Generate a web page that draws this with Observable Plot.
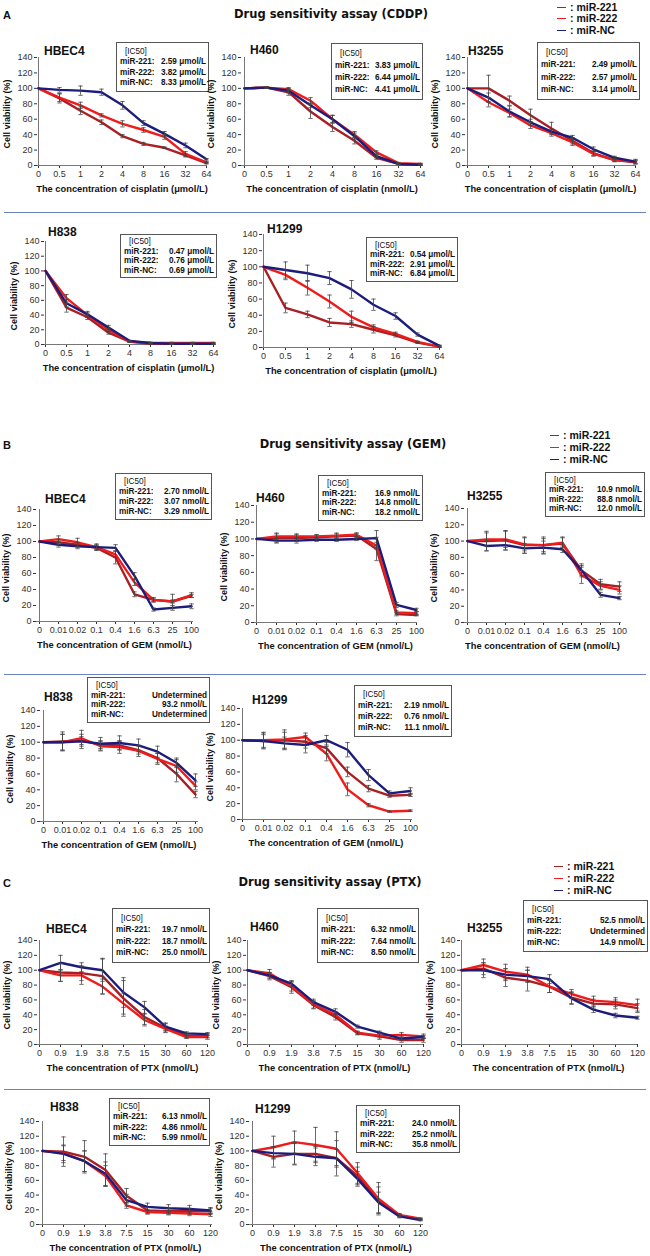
<!DOCTYPE html>
<html><head><meta charset="utf-8">
<script src="https://cdn.jsdelivr.net/npm/d3@7"></script>
<script src="https://cdn.jsdelivr.net/npm/@observablehq/plot@0.6"></script>
<style>
body{margin:0;background:#fff;}
#root{position:relative;width:650px;height:1256px;overflow:hidden;background:#fff;font-family:"Liberation Sans",Arial,sans-serif;color:#111;}
.t{position:absolute;white-space:nowrap;line-height:1;}
.panel{position:absolute;}
.box{position:absolute;border:1px solid #555;background:#fff;box-sizing:border-box;padding:2px 2px 2px 3px;display:flex;flex-direction:column;justify-content:space-evenly;font-family:"Liberation Sans",Arial,sans-serif;font-size:8.2px;color:#111;}
.box .row{display:flex;justify-content:space-between;font-weight:bold;white-space:nowrap;gap:2px;}
.box .hd{font-weight:normal;padding-left:5px;}
.sep{position:absolute;left:4px;width:642px;height:1px;background:#6a82bd;}
</style>
</head><body><div id="root"></div>
<script>
// ---------- categories ----------
const cddpCats = ["0","0.5","1","2","4","8","16","32","64"];
const gemCats  = ["0","0.01","0.02","0.1","0.4","1.6","6.3","25","100"];
const ptxCats  = ["0","0.9","1.9","3.8","7.5","15","30","60","120"];
const yTicks = [0,20,40,60,80,100,120,140];
const series = ["miR-221","miR-222","miR-NC"];
const icLabels = ["miR-221:","miR-222:","miR-NC:"];

// ---------- values: [miR-221, miR-222, miR-NC] ----------
const cddpHBEC4 = [[100,87,71,56,38,28,23,13,3],[100,88,78,65,54,46,37,15,4],[100,98,97,95,78,55,41,26,8]];
const cddpHBEC4Err = [[0,6,5,3,2,2,1,2,1],[0,5,4,2,4,3,3,3,1],[0,3,6,4,5,3,3,3,1]];
const cddpH460 = [[100,101,95,70,50,32,10,2,1],[100,101,99,84,60,40,17,3,2],[100,101,97,78,60,38,12,2,1]];
const cddpH460Err = [[0,1,4,9,6,4,2,1,1],[0,1,2,4,5,4,2,1,1],[0,1,3,3,5,4,2,1,1]];
const cddpH3255 = [[100,100,84,65,48,32,16,7,4],[100,82,68,52,42,30,15,7,5],[100,88,70,56,44,36,21,10,5]];
const cddpH3255Err = [[0,17,6,8,8,4,3,2,2],[0,6,5,4,4,4,3,2,3],[0,6,7,4,3,3,3,2,2]];
const cddpH838 = [[100,50,37,16,4,1,1,1,1],[100,63,40,20,4,2,2,2,2],[100,56,41,23,5,2,1,1,1]];
const cddpH838Err = [[0,6,3,2,1,1,1,1,1],[0,5,3,2,1,1,1,1,1],[0,5,4,3,1,1,1,1,1]];
const cddpH1299 = [[100,49,41,31,29,22,15,6,1],[100,90,74,57,38,25,17,7,1],[100,96,92,86,72,53,39,16,2]];
const cddpH1299Err = [[0,6,4,5,4,4,2,1,1],[0,6,9,8,7,3,2,1,1],[0,10,10,8,11,7,4,2,1]];

const gemHBEC4 = [[100,99,96,92,80,34,27,25,32],[100,103,99,93,84,49,27,25,33],[100,96,94,93,92,57,15,17,19]];
const gemHBEC4Err = [[0,3,3,3,8,3,2,2,2],[0,4,5,3,4,4,3,9,3],[0,3,3,4,4,4,2,3,3]];
const gemH460 = [[100,101,101,102,103,104,88,10,9],[100,103,103,103,104,105,92,12,11],[100,98,98,99,99,100,101,21,15]];
const gemH460Err = [[0,5,4,3,3,3,14,2,1],[0,4,3,2,3,2,4,2,2],[0,3,3,2,2,2,9,3,2]];
const gemH3255 = [[100,100,101,95,95,97,64,47,44],[100,102,102,96,95,98,58,45,40],[100,94,95,91,92,90,64,34,30]];
const gemH3255Err = [[0,12,12,10,10,8,8,6,6],[0,8,10,8,8,6,10,5,5],[0,6,6,6,8,4,6,3,2]];
const gemH838 = [[100,101,102,97,96,90,80,60,34],[100,100,105,95,94,89,79,70,45],[100,100,101,98,99,96,88,74,52]];
const gemH838Err = [[0,12,5,5,5,5,6,10,4],[0,10,10,6,8,7,7,8,5],[0,10,9,8,9,8,7,6,8]];
const gemH1299 = [[100,99,100,98,90,60,39,30,31],[100,100,101,104,83,38,18,10,11],[100,99,96,94,100,88,56,33,36]];
const gemH1299Err = [[0,8,10,8,7,6,4,2,2],[0,10,12,5,9,8,2,1,1],[0,10,8,10,6,9,7,3,4]];

const ptxHBEC4 = [[100,97,96,92,62,37,22,12,12],[100,93,93,78,55,33,21,10,10],[100,110,104,100,70,50,24,15,14]];
const ptxHBEC4Err = [[0,12,10,24,24,10,6,3,3],[0,8,12,10,14,8,4,2,3],[0,10,6,15,20,8,5,2,2]];
const ptxH460 = [[100,92,77,53,37,15,11,6,6],[100,96,78,54,40,16,12,13,11],[100,93,82,57,44,24,16,8,10]];
const ptxH460Err = [[0,5,8,5,4,2,4,3,3],[0,5,6,5,4,2,3,3,3],[0,4,4,4,4,2,2,2,2]];
const ptxH3255 = [[100,102,90,86,78,63,55,54,49],[100,107,98,94,78,68,59,57,53],[100,100,94,92,88,62,47,39,36]];
const ptxH3255Err = [[0,8,12,14,8,8,6,6,6],[0,8,10,10,8,6,6,6,8],[0,10,8,8,6,8,4,3,2]];
const ptxH838 = [[100,99,92,74,39,19,18,18,18],[100,97,86,66,26,17,16,15,14],[100,96,86,69,33,24,22,21,19]];
const ptxH838Err = [[0,20,22,22,10,4,4,4,4],[0,10,14,14,4,3,3,3,3],[0,12,14,16,8,5,5,5,4]];
const ptxH1299 = [[100,92,96,96,90,66,33,12,7],[100,105,112,108,103,70,35,13,8],[100,97,96,92,90,62,30,11,6]];
const ptxH1299Err = [[0,14,15,10,24,12,18,2,1],[0,15,15,24,23,14,22,2,1],[0,8,14,12,12,10,14,2,1]];

// ---------- IC50 texts ----------
const icCddpHBEC4 = ["2.59 μmol/L","3.82 μmol/L","8.33 μmol/L"];
const icCddpH460  = ["3.83 μmol/L","6.44 μmol/L","4.41 μmol/L"];
const icCddpH3255 = ["2.49 μmol/L","2.57 μmol/L","3.14 μmol/L"];
const icCddpH838  = ["0.47 μmol/L","0.76 μmol/L","0.69 μmol/L"];
const icCddpH1299 = ["0.54 μmol/L","2.91 μmol/L","6.84 μmol/L"];
const icGemHBEC4 = ["2.70 nmol/L","3.07 nmol/L","3.29 nmol/L"];
const icGemH460  = ["16.9 nmol/L","14.8 nmol/L","18.2 nmol/L"];
const icGemH3255 = ["10.9 nmol/L","88.8 nmol/L","12.0 nmol/L"];
const icGemH838  = ["Undetermined","93.2 nmol/L","Undetermined"];
const icGemH1299 = ["2.19 nmol/L","0.76 nmol/L","11.1 nmol/L"];
const icPtxHBEC4 = ["19.7 nmol/L","18.7 nmol/L","25.0 nmol/L"];
const icPtxH460  = ["6.32 nmol/L","7.64 nmol/L","8.50 nmol/L"];
const icPtxH3255 = ["52.5 nmol/L","Undetermined","14.9 nmol/L"];
const icPtxH838  = ["6.13 nmol/L","4.86 nmol/L","5.99 nmol/L"];
const icPtxH1299 = ["24.0 nmol/L","25.2 nmol/L","35.8 nmol/L"];

const xlabCddp = "The concentration of cisplatin (μmol/L)";
const xlabCddpN = "The concentration of cisplatin (nmol/L)";
const xlabGem = "The concentration of GEM (nmol/L)";
const xlabPtx = "The concentration of PTX (nmol/L)";

// ---------- layout ----------
const colors = ["#a81f24","#ee1c1c","#1c1c7c"];
const layout = [
 {name:"HBEC4",d:cddpHBEC4,e:cddpHBEC4Err,cats:cddpCats,ic:icCddpHBEC4,xl:xlabCddp,x0:37,x1:207,yT:57,yB:165,tx:44,ty:51,box:[116,42,93,50]},
 {name:"H460",d:cddpH460,e:cddpH460Err,cats:cddpCats,ic:icCddpH460,xl:xlabCddpN,x0:241,x1:423,yT:57,yB:165,tx:250,ty:50,box:[331,43,92,57]},
 {name:"H3255",d:cddpH3255,e:cddpH3255Err,cats:cddpCats,ic:icCddpH3255,xl:xlabCddp,x0:465,x1:636,yT:57,yB:165,tx:468,ty:51,box:[537,42,103,58]},
 {name:"H838",d:cddpH838,e:cddpH838Err,cats:cddpCats,ic:icCddpH838,xl:xlabCddp,x0:44,x1:213,yT:241,yB:344,tx:48,ty:232,box:[120,234,97,44]},
 {name:"H1299",d:cddpH1299,e:cddpH1299Err,cats:cddpCats,ic:icCddpH1299,xl:xlabCddp,x0:262,x1:440,yT:234,yB:347,tx:267,ty:229,box:[366,237,92,45]},
 {name:"HBEC4",d:gemHBEC4,e:gemHBEC4Err,cats:gemCats,ic:icGemHBEC4,xl:xlabGem,x0:36,x1:193,yT:509,yB:621,tx:45,ty:499,box:[115,473,97,47]},
 {name:"H460",d:gemH460,e:gemH460Err,cats:gemCats,ic:icGemH460,xl:xlabGem,x0:254,x1:417,yT:505,yB:622,tx:256,ty:498,box:[318,475,105,46]},
 {name:"H3255",d:gemH3255,e:gemH3255Err,cats:gemCats,ic:icGemH3255,xl:xlabGem,x0:464,x1:621,yT:508,yB:622,tx:467,ty:496,box:[545,472,100,45]},
 {name:"H838",d:gemH838,e:gemH838Err,cats:gemCats,ic:icGemH838,xl:xlabGem,x0:40,x1:198,yT:710,yB:821,tx:44,ty:697,box:[87,677,123,46]},
 {name:"H1299",d:gemH1299,e:gemH1299Err,cats:gemCats,ic:icGemH1299,xl:xlabGem,x0:240,x1:412,yT:708,yB:819,tx:252,ty:700,box:[354,685,98,52]},
 {name:"HBEC4",d:ptxHBEC4,e:ptxHBEC4Err,cats:ptxCats,ic:icPtxHBEC4,xl:xlabPtx,x0:37,x1:208,yT:940,yB:1044,tx:46,ty:929,box:[112,908,98,55]},
 {name:"H460",d:ptxH460,e:ptxH460Err,cats:ptxCats,ic:icPtxH460,xl:xlabPtx,x0:246,x1:423,yT:940,yB:1044,tx:250,ty:927,box:[317,908,102,55]},
 {name:"H3255",d:ptxH3255,e:ptxH3255Err,cats:ptxCats,ic:icPtxH3255,xl:xlabPtx,x0:460,x1:637,yT:940,yB:1044,tx:467,ty:928,box:[523,900,125,52]},
 {name:"H838",d:ptxH838,e:ptxH838Err,cats:ptxCats,ic:icPtxH838,xl:xlabPtx,x0:39,x1:212,yT:1121,yB:1224,tx:50,ty:1107,box:[109,1098,101,48]},
 {name:"H1299",d:ptxH1299,e:ptxH1299Err,cats:ptxCats,ic:icPtxH1299,xl:xlabPtx,x0:249,x1:423,yT:1121,yB:1224,tx:255,ty:1109,box:[356,1105,104,48]}
];
const sections = [
 {letter:"A",title:"Drug sensitivity assay (CDDP)",ty:15,tcx:331,leg:[7,18,30],lx:557,sep:212},
 {letter:"B",title:"Drug sensitivity assay (GEM)",ty:445,tcx:353,leg:[435,447,459],lx:550,sep:674},
 {letter:"C",title:"Drug sensitivity assay (PTX)",ty:883,tcx:330,leg:[866,878,890],lx:554,sep:1089}
];

const root = document.getElementById("root");
function txt(x,y,s,css,anchor){
  const el=document.createElement("div");
  el.className="t"; el.textContent=s;
  el.style.left=x+"px"; el.style.top=y+"px";
  el.style.transform = anchor==="middle" ? "translate(-50%,-50%)" : "translate(0,-50%)";
  Object.assign(el.style, css||{});
  root.appendChild(el); return el;
}

sections.forEach(s=>{
  txt(3,s.ty,s.letter,{fontWeight:"bold",fontSize:"11px",fontFamily:"'Liberation Sans',Arial,sans-serif"});
  txt(s.tcx,s.ty,s.title,{fontWeight:"bold",fontSize:"11.5px",fontFamily:"'DejaVu Sans',Verdana,sans-serif"},"middle");
  s.leg.forEach((y,i)=>{
    const d=document.createElement("div");
    Object.assign(d.style,{position:"absolute",left:s.lx+"px",top:(y-0.5)+"px",width:"9px",height:"1.8px",background:colors[i]});
    root.appendChild(d);
    txt(s.lx+13,y,": "+series[i],{fontWeight:"bold",fontSize:"10.5px"});
  });
  const sep=document.createElement("div"); sep.className="sep"; sep.style.top=s.sep+"px"; root.appendChild(sep);
});

const cap = {draw(ctx){ctx.moveTo(-2.2,0);ctx.lineTo(2.2,0);}};
layout.forEach(p=>{
  const mL=24,mR=12,mT=5,mB=16;
  const rows=[];
  p.d.forEach((vals,s)=>vals.forEach((v,i)=>rows.push({c:p.cats[i],s:series[s],v,e:p.e[s][i]})));
  const errs=rows.filter(r=>r.e>0).map(r=>({c:r.c,lo:r.v-r.e,hi:r.v+r.e}));
  const W=p.x1-p.x0+mL+mR, H=p.yB-p.yT+mT+mB;
  const chart=Plot.plot({
    width:W,height:H,marginLeft:mL,marginRight:mR,marginTop:mT,marginBottom:mB,
    style:{background:"transparent",fontFamily:"'Liberation Sans',Arial,sans-serif",fontSize:"9px",color:"#333",overflow:"visible"},
    x:{type:"point",domain:p.cats,padding:0,label:null},
    y:{domain:[0,140],label:null},
    color:{domain:series,range:colors},
    marks:[
      Plot.axisY(yTicks,{tickSize:3,tickPadding:2,label:null}),
      Plot.axisX({tickSize:3,tickPadding:2,label:null}),
      Plot.ruleX([p.cats[0]],{stroke:"#777"}),
      Plot.ruleY([0],{stroke:"#777"}),
      Plot.line(rows,{x:"c",y:"v",z:"s",stroke:"s",strokeWidth:2.4,strokeLinejoin:"round"}),
      Plot.ruleX(errs,{x:"c",y1:"lo",y2:"hi",stroke:"#444",strokeWidth:0.8}),
      Plot.dot(errs,{x:"c",y:"lo",symbol:cap,stroke:"#444",strokeWidth:0.8,fill:"none"}),
      Plot.dot(errs,{x:"c",y:"hi",symbol:cap,stroke:"#444",strokeWidth:0.8,fill:"none"})
    ]
  });
  chart.classList.add("panel");
  chart.style.left=(p.x0-mL)+"px"; chart.style.top=(p.yT-mT)+"px";
  root.appendChild(chart);
  txt(p.tx,p.ty,p.name,{fontWeight:"bold",fontSize:"12px"});
  const yl=txt(p.x0-30,(p.yT+p.yB)/2+3,"Cell viability (%)",{fontWeight:"bold",fontSize:"9px"});
  yl.style.transform="translate(-50%,-50%) rotate(-90deg)";
  txt((p.x0+p.x1)/2,p.yB+25,p.xl,{fontWeight:"bold",fontSize:"9.3px"},"middle");
  const b=document.createElement("div"); b.className="box";
  Object.assign(b.style,{left:p.box[0]+"px",top:p.box[1]+"px",width:p.box[2]+"px",height:p.box[3]+"px"});
  const hd=document.createElement("div"); hd.className="hd"; hd.textContent="[IC50]"; b.appendChild(hd);
  p.ic.forEach((v,i)=>{
    const r=document.createElement("div"); r.className="row";
    const a=document.createElement("span"); a.textContent=icLabels[i];
    const c=document.createElement("span"); c.textContent=v;
    r.appendChild(a); r.appendChild(c); b.appendChild(r);
  });
  root.appendChild(b);
});
</script>
</body></html>
